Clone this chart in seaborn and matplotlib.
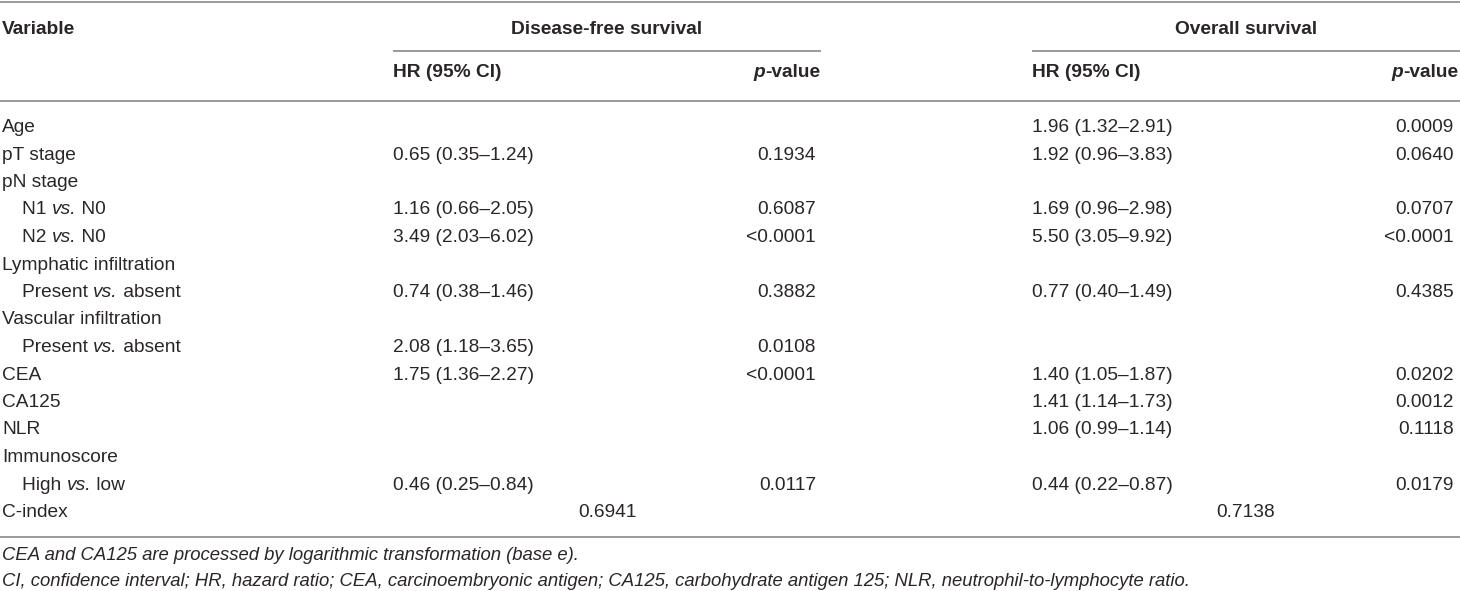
"""Multivariate Cox regression table (DFS / OS) drawn as a matplotlib figure."""

import matplotlib

matplotlib.use("Agg")
import matplotlib.pyplot as plt
import seaborn as sns

# Table content ("|" separates upright / italic / upright pieces)
variables = [
    "Age", "pT stage", "pN stage", "N1 |vs.| N0", "N2 |vs.| N0",
    "Lymphatic infiltration", "Present |vs.| absent", "Vascular infiltration",
    "Present |vs.| absent", "CEA", "CA125", "NLR", "Immunoscore",
    "High |vs.| low",
]
indented = [False, False, False, True, True, False, True, False, True,
            False, False, False, False, True]
dfs_hr = ["", "0.65 (0.35–1.24)", "", "1.16 (0.66–2.05)", "3.49 (2.03–6.02)", "",
          "0.74 (0.38–1.46)", "", "2.08 (1.18–3.65)", "1.75 (1.36–2.27)", "", "", "",
          "0.46 (0.25–0.84)"]
dfs_p = ["", "0.1934", "", "0.6087", "<0.0001", "", "0.3882", "", "0.0108",
         "<0.0001", "", "", "", "0.0117"]
os_hr = ["1.96 (1.32–2.91)", "1.92 (0.96–3.83)", "", "1.69 (0.96–2.98)",
         "5.50 (3.05–9.92)", "", "0.77 (0.40–1.49)", "", "", "1.40 (1.05–1.87)",
         "1.41 (1.14–1.73)", "1.06 (0.99–1.14)", "", "0.44 (0.22–0.87)"]
os_p = ["0.0009", "0.0640", "", "0.0707", "<0.0001", "", "0.4385", "", "",
        "0.0202", "0.0012", "0.1118", "", "0.0179"]
c_index = ["0.6941", "0.7138"]
footnotes = [
    "CEA and CA125 are processed by logarithmic transformation (base e).",
    "CI, confidence interval; HR, hazard ratio; CEA, carcinoembryonic antigen; "
    "CA125, carbohydrate antigen 125; NLR, neutrophil-to-lymphocyte ratio.",
]

TXT = "#2a2627"
RULE = "#9a9a9a"
FS = 13.8

sns.set_theme(style="white")
plt.rcParams["font.family"] = ["Liberation Sans", "DejaVu Sans"]

W, H = 1460, 591
fig = plt.figure(figsize=(W / 100, H / 100), dpi=100)
ax = fig.add_axes([0, 0, 1, 1])
ax.set_xlim(0, W)
ax.set_ylim(H, 0)
ax.axis("off")
fig.canvas.draw()
renderer = fig.canvas.get_renderer()


def width_of(s, **kw):
    # measure with guard letters so leading/trailing spaces count
    def w(txt):
        t = ax.text(0, 0, txt, fontsize=FS, **kw)
        bb = t.get_window_extent(renderer)
        t.remove()
        return bb.width
    return w("I" + s + "I") - w("II")


def runs(x, y, parts, ha="left", weight="normal"):
    """Draw text made of alternating upright/italic parts."""
    styles = ["normal" if i % 2 == 0 else "italic" for i in range(len(parts))]
    widths = [width_of(p, style=s, weight=weight) for p, s in zip(parts, styles)]
    if ha == "right":
        x -= sum(widths)
    for p, s, w in zip(parts, styles, widths):
        ax.text(x, y, p, fontsize=FS, style=s, weight=weight, color=TXT,
                va="baseline", ha="left")
        x += w


# Rules
for yy in (1.5, 101, 537):
    ax.plot([0, W], [yy, yy], color=RULE, lw=1.4, solid_capstyle="butt")
ax.plot([393, 821], [51, 51], color=RULE, lw=1.4, solid_capstyle="butt")
ax.plot([1032, W], [51, 51], color=RULE, lw=1.4, solid_capstyle="butt")

# Header
hdr = dict(fontsize=FS, weight="bold", color=TXT, va="baseline")
ax.text(2, 34, "Variable", ha="left", **hdr)
ax.text(607, 34, "Disease-free survival", ha="center", **hdr)
ax.text(1246, 34, "Overall survival", ha="center", **hdr)
ax.text(393, 77, "HR (95% CI)", ha="left", **hdr)
ax.text(1032, 77, "HR (95% CI)", ha="left", **hdr)
runs(820, 77, ["", "p", "-value"], ha="right", weight="bold")
runs(1458, 77, ["", "p", "-value"], ha="right", weight="bold")

# Body
body = dict(fontsize=FS, color=TXT, va="baseline")
y0, step = 132, 27.5
for i, name in enumerate(variables):
    y = y0 + i * step
    x = 22 if indented[i] else 2
    runs(x, y, name.split("|"))
    ax.text(393, y, dfs_hr[i], ha="left", **body)
    ax.text(816, y, dfs_p[i], ha="right", **body)
    ax.text(1032, y, os_hr[i], ha="left", **body)
    ax.text(1454, y, os_p[i], ha="right", **body)

yc = y0 + len(variables) * step
ax.text(2, yc, "C-index", ha="left", **body)
ax.text(607, yc, c_index[0], ha="center", **body)
ax.text(1246, yc, c_index[1], ha="center", **body)

# Footnotes
for k, note in enumerate(footnotes):
    ax.text(2, 560 + 26 * k, note, fontsize=FS - 0.5, style="italic",
            color=TXT, va="baseline")

fig.savefig("out.png", dpi=100)
